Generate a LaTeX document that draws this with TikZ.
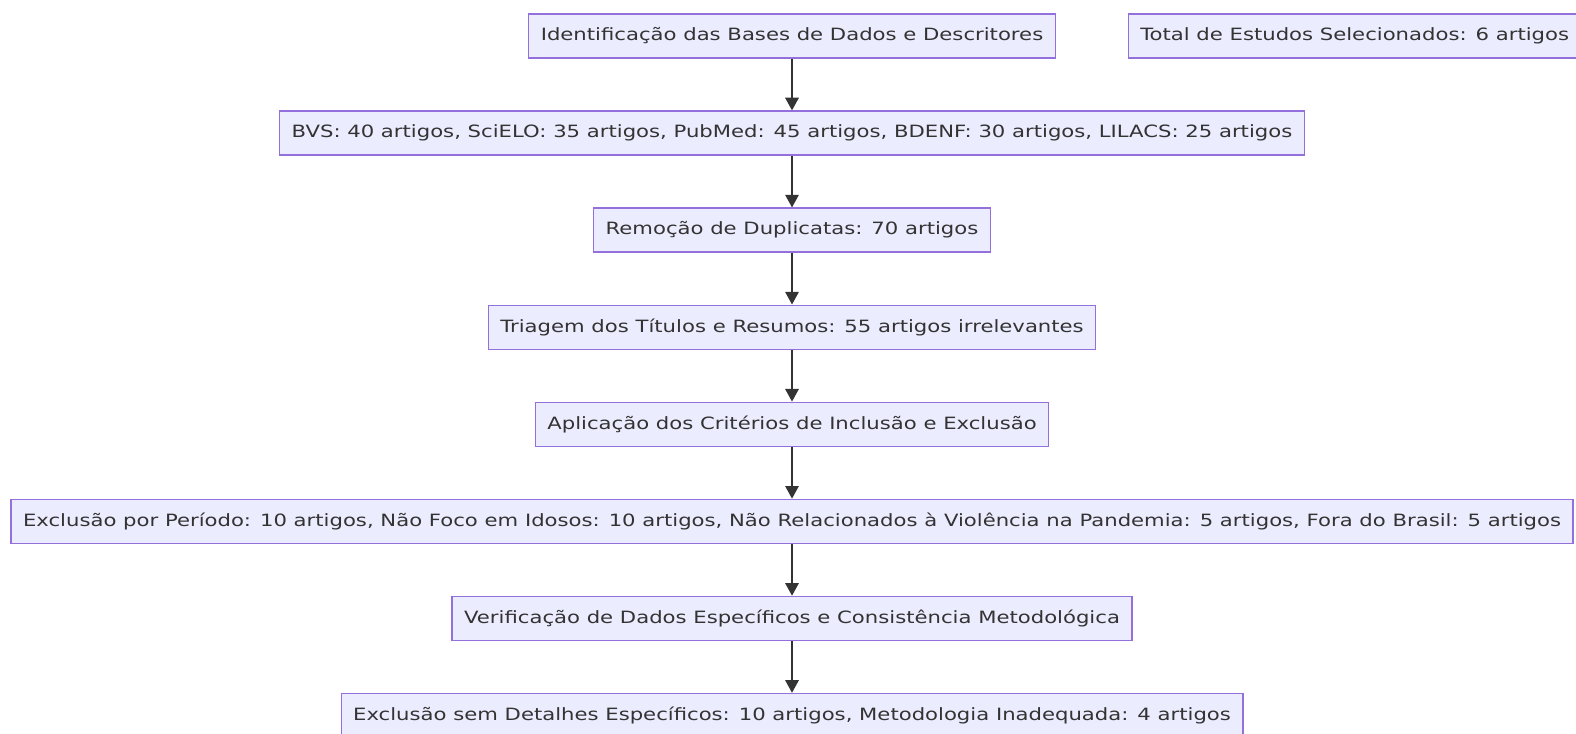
\documentclass[tikz,border=0pt]{standalone}
\usepackage{fontspec}
\setmainfont{DejaVu Sans}[FakeStretch=1.25]
\usetikzlibrary{positioning,arrows.meta}
\definecolor{boxfill}{HTML}{ECECFF}
\definecolor{boxline}{HTML}{9370DB}
\definecolor{ink}{HTML}{333333}
\tikzset{
  etapa/.style={draw=boxline, fill=boxfill, text=ink, line width=1pt,
    minimum height=33pt, inner xsep=9pt, font=\fontsize{12.7}{15}\selectfont},
  seta/.style={draw=ink, line width=1.5pt, -{Triangle[width=10pt,length=9.5pt]}}
}
\begin{document}
\begin{tikzpicture}[node distance=38.8pt]
  \useasboundingbox (0,0) rectangle (1182pt,-549.75pt); % page size

  \node[etapa] (ident) at (594pt,-27pt) {Identificação das Bases de Dados e Descritores};
  \node[etapa] (total) at (1016pt,-27pt) {Total de Estudos Selecionados: 6 artigos};
  \node[etapa, below=of ident] (bases) {BVS: 40 artigos, SciELO: 35 artigos, PubMed: 45 artigos, BDENF: 30 artigos, LILACS: 25 artigos};
  \node[etapa, below=of bases] (dupl) {Remoção de Duplicatas: 70 artigos};
  \node[etapa, below=of dupl] (triagem) {Triagem dos Títulos e Resumos: 55 artigos irrelevantes};
  \node[etapa, below=of triagem] (criterios) {Aplicação dos Critérios de Inclusão e Exclusão};
  \node[etapa, below=of criterios] (excl) {Exclusão por Período: 10 artigos, Não Foco em Idosos: 10 artigos, Não Relacionados à Violência na Pandemia: 5 artigos, Fora do Brasil: 5 artigos};
  \node[etapa, below=of excl] (verif) {Verificação de Dados Específicos e Consistência Metodológica};
  \node[etapa, below=of verif] (exclfim) {Exclusão sem Detalhes Específicos: 10 artigos, Metodologia Inadequada: 4 artigos};

  \foreach \a/\b in {ident/bases, bases/dupl, dupl/triagem, triagem/criterios,
                     criterios/excl, excl/verif, verif/exclfim} {
    \draw[seta] (\a) -- (\b);
  }
\end{tikzpicture}
\end{document}
